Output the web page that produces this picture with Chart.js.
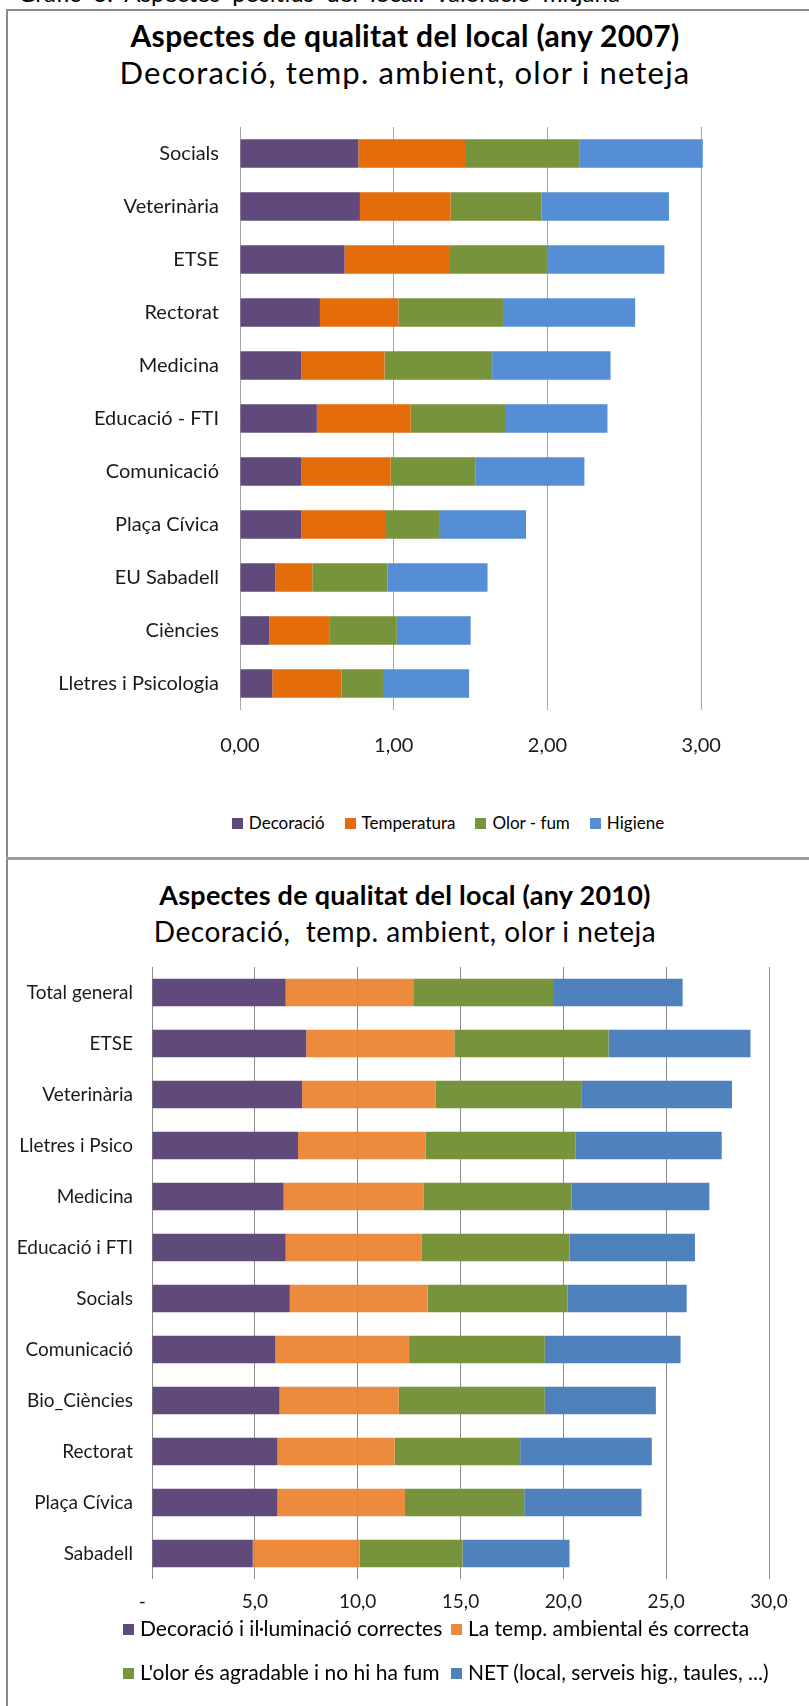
<!DOCTYPE html>
<html>
<head>
<meta charset="utf-8">
<script src="https://cdn.jsdelivr.net/npm/chart.js@4.4.1/dist/chart.umd.min.js"></script>
<style>
  html, body { margin: 0; padding: 0; background: #fff; overflow: hidden; width: 809px; height: 1706px; }
  body { position: relative; font-family: Lato, sans-serif; color: #000; }
  .abs { position: absolute; white-space: pre; }
  .frame { position: absolute; left: 6px; top: 9px; width: 900px; height: 1800px; border-left: 2px solid #8a8a8a; border-top: 2px solid #8a8a8a; }
  .divider { position: absolute; left: 6px; top: 857px; width: 900px; height: 0; border-top: 3px solid #9a9a9a; }
  .title { left: 0; width: 810px; text-align: center; font-weight: bold; }
  .sub { left: 0; width: 810px; text-align: center; }
  .legend span.sw { display: inline-block; width: 11px; height: 11px; margin-right: 6px; vertical-align: middle; position: relative; top: -1px; }
  .legend .item { display: inline-block; }
  canvas { position: absolute; }
</style>
</head>
<body>
<div class="abs" style="left:18px; top:-19px; font-size:24px; line-height:24px; word-spacing:6px;">Gràfic 6: Aspectes positius del local: valoració mitjana</div>
<div class="frame"></div>
<div class="divider"></div>

<div class="abs title" style="top:18px; font-size:30px; line-height:34px; letter-spacing:0.35px;">Aspectes de qualitat del local (any 2007)</div>
<div class="abs sub" style="top:54px; font-size:31px; line-height:36px; letter-spacing:1.2px;">Decoració, temp. ambient, olor i neteja</div>
<canvas id="chart2007" width="878" height="660" style="left:9px; top:100px;"></canvas>
<div id="legend2007" class="abs legend" style="left:0; width:896px; top:811px; font-size:17px; line-height:24px; text-align:center;"></div>

<div class="abs title" style="top:879px; font-size:27px; line-height:32px; letter-spacing:0.25px;">Aspectes de qualitat del local (any 2010)</div>
<div class="abs sub" style="top:915px; font-size:28px; line-height:32px; letter-spacing:0.55px;">Decoració,  temp. ambient, olor i neteja</div>
<canvas id="chart2010" width="800" height="670" style="left:9px; top:950px;"></canvas>
<div id="legend2010" class="abs legend" style="left:123px; top:1616px; font-size:21px; line-height:24px;"></div>

<script>
    // 2007 chart
    var categories2007 = ['Socials', 'Veterinària', 'ETSE', 'Rectorat', 'Medicina', 'Educació - FTI',
        'Comunicació', 'Plaça Cívica', 'EU Sabadell', 'Ciències', 'Lletres i Psicologia'];
    var series2007 = ['Decoració', 'Temperatura', 'Olor - fum', 'Higiene'];
    var decoracio2007 = [0.77, 0.78, 0.68, 0.52, 0.40, 0.50, 0.40, 0.40, 0.23, 0.19, 0.21];
    var temperatura2007 = [0.70, 0.59, 0.68, 0.51, 0.54, 0.61, 0.58, 0.55, 0.24, 0.39, 0.45];
    var olor2007 = [0.74, 0.59, 0.64, 0.68, 0.70, 0.62, 0.55, 0.35, 0.49, 0.44, 0.27];
    var higiene2007 = [0.80, 0.83, 0.76, 0.86, 0.77, 0.66, 0.71, 0.56, 0.65, 0.48, 0.56];
    var tickLabels2007 = ['0,00', '1,00', '2,00', '3,00', '4,00'];

    // 2010 chart
    var categories2010 = ['Total general', 'ETSE', 'Veterinària', 'Lletres i Psico', 'Medicina', 'Educació i FTI',
        'Socials', 'Comunicació', 'Bio_Ciències', 'Rectorat', 'Plaça Cívica', 'Sabadell'];
    var series2010 = ['Decoració i il·luminació correctes', 'La temp. ambiental és correcta',
        "L'olor és agradable i no hi ha fum", 'NET (local, serveis hig., taules, ...)'];
    var decoracio2010 = [6.5, 7.5, 7.3, 7.1, 6.4, 6.5, 6.7, 6.0, 6.2, 6.1, 6.1, 4.9];
    var temperatura2010 = [6.2, 7.2, 6.5, 6.2, 6.8, 6.6, 6.7, 6.5, 5.8, 5.7, 6.2, 5.2];
    var olor2010 = [6.8, 7.5, 7.1, 7.3, 7.2, 7.2, 6.8, 6.6, 7.1, 6.1, 5.8, 5.0];
    var net2010 = [6.3, 6.9, 7.3, 7.1, 6.7, 6.1, 5.8, 6.6, 5.4, 6.4, 5.7, 5.2];
    // accounting style zero: dash followed by blank digit places
    var tickLabels2010 = ['-    ', '5,0', '10,0', '15,0', '20,0', '25,0', '30,0'];

    var colors2007 = ['#604a7b', '#e46c0a', '#77933c', '#558ed5'];
    var colors2010 = ['#604a7b', 'rgba(234,128,44,0.92)', '#77933c', '#4f81bd'];

    Chart.defaults.font.family = 'Lato, sans-serif';
    Chart.defaults.color = '#1a1a1a';

    function makeDatasets(names, colors, values, barPct) {
        return names.map(function (name, i) {
            return { label: name, data: values[i], backgroundColor: colors[i], borderWidth: 0,
                barPercentage: barPct, categoryPercentage: 1 };
        });
    }

    // fixed axis sizes, no extra label padding around the plot
    function fixSize(width, height) {
        return function (s) {
            if (width) s.width = width;
            if (height) s.height = height;
            s.paddingTop = 0; s.paddingBottom = 0; s.paddingLeft = 0; s.paddingRight = 0;
        };
    }

    function renderLegend(el, names, colors, grid) {
        var html = '';
        names.forEach(function (name, i) {
            var style = grid ? 'width:' + (i % 2 === 0 ? '328px' : 'auto') + ';height:44px;' : 'margin:0 10px;';
            html += '<div class="item" style="' + style + '"><span class="sw" style="background:' + colors[i] + '"></span>' + name + '</div>';
            if (grid && i % 2 === 1) html += '<br>';
        });
        el.innerHTML = html;
    }

    new Chart(document.getElementById('chart2007'), {
        type: 'bar',
        data: {
            labels: categories2007,
            datasets: makeDatasets(series2007, colors2007, [decoracio2007, temperatura2007, olor2007, higiene2007], 0.54)
        },
        options: {
            indexAxis: 'y', responsive: false, animation: false,
            layout: { padding: { top: 27, right: 32, left: 0, bottom: 0 } },
            plugins: { legend: { display: false }, tooltip: { enabled: false } },
            scales: {
                x: {
                    stacked: true, min: 0, max: 4,
                    border: { display: false },
                    grid: { color: '#a6a6a6', drawTicks: false },
                    ticks: { stepSize: 1, padding: 24, font: { size: 20 },
                        callback: function (v, i) { return tickLabels2007[i]; } },
                    afterFit: fixSize(0, 50)
                },
                y: {
                    stacked: true,
                    border: { display: false },
                    grid: { display: false, drawTicks: false },
                    ticks: { padding: 21, font: { size: 20 } },
                    afterFit: fixSize(231, 0)
                }
            }
        }
    });

    new Chart(document.getElementById('chart2010'), {
        type: 'bar',
        data: {
            labels: categories2010,
            datasets: makeDatasets(series2010, colors2010, [decoracio2010, temperatura2010, olor2010, net2010], 0.54)
        },
        options: {
            indexAxis: 'y', responsive: false, animation: false,
            layout: { padding: { top: 17, right: 40, left: 0, bottom: 0 } },
            plugins: { legend: { display: false }, tooltip: { enabled: false } },
            scales: {
                x: {
                    stacked: true, min: 0, max: 30,
                    border: { display: false },
                    grid: { color: '#8c8c8c', drawTicks: false },
                    ticks: { stepSize: 5, padding: 11, font: { size: 19 },
                        callback: function (v, i) { return tickLabels2010[i]; } },
                    afterFit: fixSize(0, 41)
                },
                y: {
                    stacked: true,
                    border: { display: false },
                    grid: { display: false, drawTicks: false },
                    ticks: { padding: 19, font: { size: 19 } },
                    afterFit: fixSize(143, 0)
                }
            }
        }
    });

    renderLegend(document.getElementById('legend2007'), series2007, colors2007, false);
    renderLegend(document.getElementById('legend2010'), series2010, colors2010, true);
</script>
</body>
</html>
